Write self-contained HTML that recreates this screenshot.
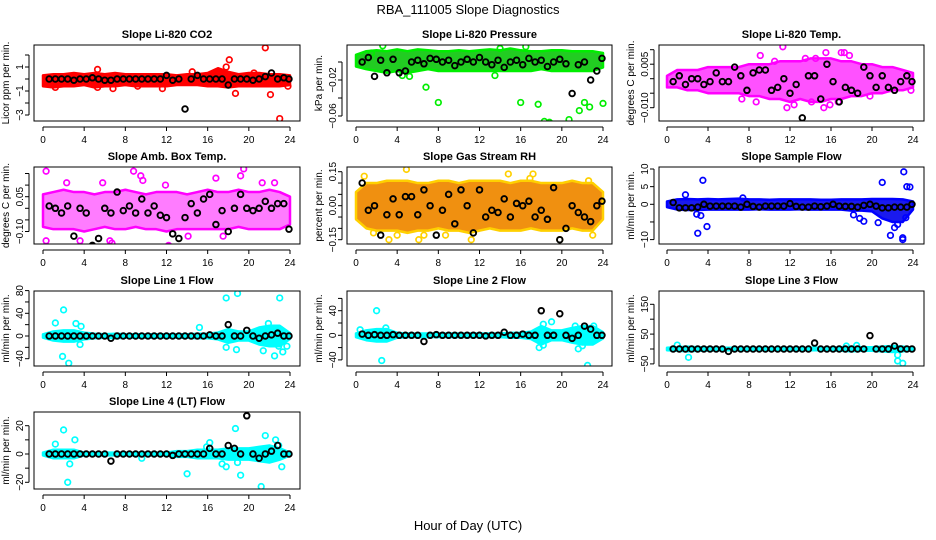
<!DOCTYPE html>
<html><head><meta charset="utf-8">
<style>
html,body{margin:0;padding:0;background:#fff}
svg{display:block;font-family:"Liberation Sans",sans-serif}
</style></head>
<body>
<svg id="chart" width="936" height="540" viewBox="0 0 936 540">
<text x="468" y="14" text-anchor="middle" font-size="13">RBA_111005  Slope Diagnostics</text>
<text x="468" y="530" text-anchor="middle" font-size="13">Hour of Day (UTC)</text>
</svg>
<script>
// ---- shared data ----
const bandHours = [0,1,2,3,4,5,6,7,8,9,10,11,12,13,14,15,16,17,18,19,20,21,22,23,24];
const blackHours = [0.6,1.2,1.8,2.4,3.0,3.6,4.2,4.8,5.4,6.0,6.6,7.2,7.8,8.4,9.0,9.6,10.2,10.8,11.4,12.0,12.6,13.2,13.8,14.4,15.0,15.6,16.2,16.8,17.4,18.0,18.6,19.2,19.8,20.4,21.0,21.6,22.2,22.8,23.4,23.9];
const xTicks = [0,4,8,12,16,20,24];

// CO2
const co2Lo = [-0.6,-0.7,-0.6,-0.6,-0.5,-0.7,-0.6,-0.6,-0.5,-0.6,-0.6,-0.6,-0.6,-0.5,-0.5,-0.5,-0.6,-0.6,-0.7,-0.6,-0.6,-0.6,-0.6,-0.6,-0.5];
const co2Hi = [0.3,0.4,0.4,0.5,0.4,0.5,0.4,0.5,0.4,0.4,0.4,0.4,0.4,0.3,0.4,0.4,0.5,0.9,0.6,0.4,0.5,0.5,0.4,0.4,0.3];
const co2OutT = [18.1,21.6,23.0,18.7,22.1,17.8,6.8,11.6,5.3,5.3,1.2,9.2,14.5,20.5,23.8];
const co2OutV = [1.6,2.6,-3.3,-1.2,-1.3,1.0,-0.8,-0.8,-0.7,0.8,-0.7,-0.6,0.6,0.5,-0.6];
const co2Black = [0,0,0,0,-0.1,0,0,0.1,0,-0.1,-0.1,0,0,0,0,0,0,0,0,0.3,-0.1,0,-2.5,0,0.3,0,0,0,0,-0.5,0,0,0,-0.1,0,0.2,0.5,0,0.1,0];

// Pressure
const presLo = [-0.005,-0.008,-0.010,-0.012,-0.010,-0.012,-0.010,-0.008,-0.010,-0.010,-0.010,-0.010,-0.010,-0.010,-0.010,-0.010,-0.010,-0.010,-0.008,-0.010,-0.010,-0.010,-0.010,-0.010,-0.006];
const presHi = [0.008,0.012,0.013,0.012,0.014,0.012,0.014,0.013,0.012,0.012,0.013,0.012,0.013,0.014,0.013,0.015,0.013,0.012,0.012,0.013,0.013,0.012,0.012,0.012,0.010];
const presOutT = [8.0,6.8,16.0,17.7,18.3,18.8,19.3,20.7,21.7,22.2,22.7,24.0,13.5,4.5,1.5,16.5,14.0,2.6,5.2];
const presOutV = [-0.045,-0.028,-0.045,-0.047,-0.066,-0.067,-0.069,-0.064,-0.054,-0.045,-0.050,-0.046,-0.015,-0.015,0.010,0.017,0.015,0.018,-0.016];
const presBlack = [0.000,0.005,-0.016,0.002,-0.012,0.003,-0.012,-0.010,0.000,0.002,-0.002,0.004,0.003,0.000,0.002,-0.004,0.000,0.003,0.000,0.005,0.000,-0.003,0.002,-0.006,0.000,0.002,-0.003,0.004,0.000,0.002,-0.005,0.000,0.003,-0.002,-0.035,-0.003,0.000,-0.020,-0.010,0.004];

// Li-820 Temp
const tempLo = [-0.003,-0.003,-0.004,-0.004,-0.005,-0.005,-0.005,-0.005,-0.006,-0.006,-0.007,-0.007,-0.008,-0.007,-0.008,-0.008,-0.007,-0.007,-0.006,-0.006,-0.005,-0.005,-0.004,-0.004,-0.003];
const tempHi = [0.001,0.003,0.003,0.003,0.004,0.004,0.004,0.004,0.005,0.005,0.005,0.006,0.006,0.006,0.007,0.007,0.007,0.006,0.006,0.005,0.005,0.004,0.004,0.003,0.002];
const tempOutT = [11.3,9.1,7.3,11.7,12.4,14.1,15.3,15.9,16.7,17.3,17.8,15.5,17.0,23.8,8.7,14.5,10.5,19.8,13.5];
const tempOutV = [0.011,0.008,-0.007,-0.010,-0.009,-0.008,-0.010,-0.009,-0.008,0.009,0.008,0.009,0.009,-0.004,-0.008,0.007,0.006,-0.006,0.007];
const tempBlack = [-0.001,0.001,-0.002,0.0,0.0,-0.002,-0.001,0.002,-0.001,-0.001,0.004,0.001,-0.004,0.002,0.003,0.003,-0.004,-0.003,0.0,-0.005,-0.002,-0.0135,0.001,0.001,-0.007,0.005,-0.001,-0.008,-0.003,-0.004,-0.005,0.004,0.001,-0.003,0.001,-0.003,-0.004,-0.001,0.001,-0.001];

// Amb box temp
const ambLo = [-0.08,-0.09,-0.09,-0.09,-0.10,-0.09,-0.08,-0.09,-0.09,-0.08,-0.09,-0.09,-0.10,-0.09,-0.09,-0.09,-0.09,-0.09,-0.09,-0.08,-0.09,-0.09,-0.09,-0.09,-0.07];
const ambHi = [0.06,0.07,0.08,0.07,0.07,0.06,0.07,0.07,0.08,0.07,0.06,0.07,0.07,0.07,0.06,0.07,0.08,0.07,0.07,0.08,0.07,0.07,0.08,0.07,0.05];
const ambOutT = [0.3,0.3,2.3,5.8,8.8,9.5,9.7,11.9,12.2,6.7,6.5,16.8,19.5,19.2,21.3,22.5,3.6,17.5,14.1];
const ambOutV = [0.16,-0.14,0.11,0.11,0.16,0.14,0.12,0.10,-0.16,-0.15,-0.14,0.13,0.17,0.14,0.11,0.11,-0.14,-0.12,-0.12];
const ambBlack = [0.01,0.0,-0.02,0.01,-0.12,0.0,-0.02,-0.16,-0.13,0.0,-0.02,0.07,-0.01,0.01,-0.02,0.04,-0.02,0.01,-0.03,-0.04,-0.11,-0.13,-0.04,0.02,-0.02,0.04,0.06,-0.07,-0.01,-0.10,0.0,0.06,0.0,-0.01,0.0,0.03,0.0,0.02,0.02,-0.09];

// Gas RH
const rhLo = [-0.06,-0.10,-0.11,-0.11,-0.11,-0.12,-0.11,-0.11,-0.10,-0.11,-0.11,-0.12,-0.11,-0.10,-0.11,-0.11,-0.11,-0.10,-0.11,-0.11,-0.11,-0.10,-0.11,-0.11,-0.06];
const rhHi = [0.06,0.10,0.10,0.11,0.11,0.11,0.10,0.10,0.11,0.11,0.10,0.11,0.11,0.11,0.11,0.10,0.11,0.11,0.10,0.10,0.10,0.11,0.10,0.10,0.06];
const rhOutT = [0.8,1.7,3.2,4.9,6.1,6.6,8.7,11.2,14.8,16.9,17.2,19.8,22.6,23.0,4.0];
const rhOutV = [0.13,-0.12,-0.15,0.16,-0.15,-0.13,-0.13,-0.15,0.14,0.12,0.14,-0.15,0.11,-0.13,-0.13];
const rhBlack = [0.10,-0.02,0.0,-0.13,-0.04,0.03,-0.04,0.04,0.04,-0.04,0.07,0.0,-0.13,-0.02,0.05,-0.08,0.07,0.0,-0.12,0.07,-0.05,-0.02,-0.03,0.03,-0.05,0.01,0.0,0.02,-0.05,-0.02,-0.06,0.08,-0.15,-0.10,0.0,-0.03,-0.05,-0.07,0.0,0.02];

// Sample flow
const flowLo = [-0.8,-1.5,-1.6,-1.6,-1.5,-1.5,-1.5,-1.5,-1.5,-1.4,-1.5,-1.5,-1.5,-1.4,-1.5,-1.5,-1.5,-1.5,-1.8,-1.8,-2.0,-4.0,-5.0,-5.0,-1.5];
const flowHi = [0.8,1.4,1.5,1.4,1.5,1.4,1.5,1.6,1.4,1.4,1.3,1.4,1.4,1.4,1.4,1.3,1.3,1.4,1.4,1.4,1.5,1.5,1.5,1.4,0.8];
const flowOutT = [3.5,3.0,3.9,2.9,3.3,1.8,21.0,22.2,21.8,23.0,23.1,23.4,23.7,23.0,22.5,20.6,19.2,18.8,18.2,7.4,23.3];
const flowOutV = [6.8,-8.2,-6.3,-2.8,-3.2,2.7,6.2,-6.6,-8.8,-9.5,9.2,5.0,4.9,-10,-5.7,-5.2,-4.8,-4.0,-3.0,1.8,-3.8];
const flowBlack = [0.5,-1.0,-1.0,-1.0,-0.8,0.0,-0.5,-0.5,-0.5,-0.5,-0.5,-0.8,0.0,-0.6,-0.8,-0.5,-0.5,-0.5,-0.5,0.2,-0.6,-0.8,-0.8,-0.5,-0.7,-0.5,0.0,-0.5,-0.6,-0.6,-0.8,-0.3,0.0,-0.5,-1.0,-1.0,-0.8,-0.8,-0.8,0.0];

// Line 1 flow
const l1Lo = [-3,-8,-10,-10,-6,-4,-3,-4,-3,-3,-3,-3,-3,-3,-3,-4,-4,-6,-12,-8,-8,-15,-18,-18,-5];
const l1Hi = [3,8,10,10,6,4,3,4,3,3,3,3,3,3,3,4,4,6,12,8,8,15,18,18,5];
const l1OutT = [2.0,2.5,1.9,1.2,3.2,3.6,17.8,18.9,23.0,17.8,18.8,22.5,23.3,21.4,15.2,3.7,21.9,22.9,23.7];
const l1OutV = [46,-48,-36,23,22,-15,67,75,67,-20,-24,-35,-28,-26,15,17,22,-18,-18];
const l1Black = [0,0,0,0,0,0,0,0,0,0,-4,0,0,0,0,0,0,0,0,0,0,0,0,0,0,0,2,0,0,20,0,0,10,0,-4,0,2,5,0,0];

// Line 2 flow
const l2Lo = [-3,-8,-10,-10,-4,-3,-3,-3,-3,-3,-3,-3,-3,-3,-3,-4,-4,-6,-15,-8,-8,-12,-15,-15,-5];
const l2Hi = [3,8,10,10,4,3,3,3,3,3,3,3,3,3,3,4,4,6,15,8,8,12,15,15,5];
const l2OutT = [2.0,2.5,0.4,2.9,17.8,18.2,18.2,19.0,21.6,22.5,21.3,22.0,23.0,23.1];
const l2OutV = [40,-41,9,12,-20,-16,18,22,-22,-49,15,-17,80,15];
const l2Black = [2,0,1,0,0,1,0,0,0,0,-10,0,1,0,0,0,0,0,0,0,-1,0,0,5,0,0,2,0,0,40,0,0,35,0,-5,0,15,10,0,0];

// Line 3 flow
const l3Lo = [-4,-6,-8,-6,-5,-4,-4,-4,-4,-4,-4,-4,-4,-4,-4,-4,-4,-6,-8,-6,-6,-8,-10,-8,-4];
const l3Hi = [4,6,8,6,5,4,4,4,4,4,4,4,4,4,4,4,4,6,8,6,6,8,10,8,4];
const l3OutT = [2.1,22.5,22.5,23.0,1.0,17.5,18.5];
const l3OutV = [-28,-40,-20,-48,13,10,12];
const l3Black = [0,0,0,0,0,0,0,0,0,-8,0,0,0,0,0,0,0,0,0,0,0,0,0,20,0,0,0,0,0,0,0,0,45,0,0,0,10,0,0,0];

// Line 4 (LT) flow
const l4Lo = [-1,-3,-3,-3,-1,-1,-1,-1,-1,-1,-1,-1,-1,-2,-2,-3,-3,-3,-4,-4,-4,-5,-6,-4,-1];
const l4Hi = [1,3,3,3,1,1,1,1,1,1,1,1,1,2,2,3,3,3,4,4,4,5,6,4,1];
const l4OutT = [2.0,2.4,2.6,3.1,1.2,14.0,15.9,16.2,17.4,17.8,18.7,18.9,19.2,21.2,21.6,22.6,22.9,23.2,9.6];
const l4OutV = [17,-20,-7,10,7,-14,5,8,-7,-9,18,-6,-15,-23,13,10,6,-9,-3];
const l4Black = [0,0,0,0,0,0,0,0,0,0,-5,0,0,0,0,0,0,0,0,0,-1,0,0,0,0,0,4,0,0,6,4,0,27,0,-3,0,2,6,0,0];

// ---- layout (positions only) ----
const NS = 'http://www.w3.org/2000/svg';
const svg = document.getElementById('chart');
const cols = [{l:34,r:300,x0:43,x24:290},{l:347,r:612,x0:356,x24:603},{l:659,r:924,x0:667,x24:913}];
const rows = [{t:45,b:121},{t:167,b:244},{t:291,b:366},{t:412,b:489}];

function mk(tag, attrs, parent){
  const e = document.createElementNS(NS, tag);
  for (const k in attrs) e.setAttribute(k, attrs[k]);
  (parent||svg).appendChild(e);
  return e;
}

function panel(p){
  const c = cols[p.col], r = rows[p.row];
  const g = mk('g', {});
  
  
  const xs = h => c.x0 + (c.x24 - c.x0) * h / 24;
  const ys = v => p.yA + (v - p.vA) * (p.yB - p.yA) / (p.vB - p.vA);
  const clip = 'clip-' + p.name;
  const cp = mk('clipPath', {id: clip}, g);
  mk('rect', {x:c.l, y:r.t, width:c.r-c.l, height:r.b-r.t}, cp);
  const data = mk('g', {'clip-path': 'url(#' + clip + ')'}, g);
  let pts = bandHours.map((h,i) => xs(h) + ',' + ys(p.hi[i]));
  pts = pts.concat(bandHours.slice().reverse().map((h,j) => xs(h) + ',' + ys(p.lo[bandHours.length-1-j])));
  const band = mk('polygon', {points: pts.join(' '), fill: p.fill, 'fill-opacity': p.op || 1, stroke: p.color, 'stroke-width': 2.5, 'stroke-linejoin':'round'}, data);
  
  
  p.ot.forEach((h,i) => {
    const ci = mk('circle', {cx: xs(h), cy: ys(p.ov[i]), r: 2.8, fill: 'none', stroke: p.color, 'stroke-width': 1.7}, data);
    
    
  });
  blackHours.forEach((h,i) => {
    const ci = mk('circle', {cx: xs(h), cy: ys(p.bk[i]), r: 2.8, fill: 'none', stroke: '#000', 'stroke-width': 1.9}, data);
    
    
  });
  const box = mk('rect', {x:c.l, y:r.t, width:c.r-c.l, height:r.b-r.t, fill:'none', stroke:'#000', 'stroke-width':1}, g);
  
  
  const t = mk('text', {x:(c.l+c.r)/2, y:r.t-7, 'text-anchor':'middle', 'font-size':11, 'font-weight':'bold'}, g);
  t.textContent = p.title;
  
  
  const ax = mk('line', {x1:xs(0), x2:xs(24), y1:r.b+6, y2:r.b+6, stroke:'#000'}, g);
  
  
  xTicks.forEach(v => {
    mk('line', {x1:xs(v), x2:xs(v), y1:r.b+6, y2:r.b+10, stroke:'#000'}, g);
    const tl = mk('text', {x:xs(v), y:r.b+22, 'text-anchor':'middle', 'font-size':10}, g);
    tl.textContent = v;
    
    
  });
  const ay = mk('line', {x1:c.l-5, x2:c.l-5, y1:ys(p.ticks[p.ticks.length-1]), y2:ys(p.ticks[0]), stroke:'#000'}, g);
  
  
  p.ticks.forEach(v => {
    mk('line', {x1:c.l-9, x2:c.l-5, y1:ys(v), y2:ys(v), stroke:'#000'}, g);
  });
  p.labels.forEach((lab,i) => {
    const y = ys(p.labelVals[i]);
    const tl = mk('text', {x:c.l-11, y:y, 'text-anchor':'middle', 'font-size':10, transform:'rotate(-90 ' + (c.l-11) + ' ' + y + ')'}, g);
    tl.textContent = lab;
    
    
  });
  const yt = (r.t + r.b)/2;
  const yl = mk('text', {x:c.l-25, y:yt, 'text-anchor':'middle', 'font-size':10, transform:'rotate(-90 ' + (c.l-25) + ' ' + yt + ')'}, g);
  yl.textContent = p.ylab;
  
  
}

panel({name:'co2', col:0,row:0,title:'Slope Li-820 CO2', ylab:'Licor ppm per min.', color:'#ff0000', fill:'#ff0000',
  vA:0,yA:79,vB:1,yB:67, lo:co2Lo,hi:co2Hi,ot:co2OutT,ov:co2OutV,bk:co2Black,
  ticks:[-3,-2,-1,0,1,2], labels:['\u22123','\u22121','1'], labelVals:[-3,-1,1]});
panel({name:'pressure', col:1,row:0,title:'Slope Li-820 Pressure', ylab:'kPa per min.', color:'#00ee00', fill:'#22cc22',
  vA:0,yA:62,vB:-0.02,yB:80, lo:presLo,hi:presHi,ot:presOutT,ov:presOutV,bk:presBlack,
  ticks:[-0.06,-0.04,-0.02,0], labels:['\u22120.06','\u22120.02'], labelVals:[-0.06,-0.02]});
panel({name:'li820-temp', col:2,row:0,title:'Slope Li-820 Temp.', ylab:'degrees C per min.', color:'#ff00ff', fill:'#ff33ff', op:0.85,
  vA:0,yA:78.7,vB:0.005,yB:64.2, lo:tempLo,hi:tempHi,ot:tempOutT,ov:tempOutV,bk:tempBlack,
  ticks:[-0.01,-0.005,0,0.005,0.01], labels:['\u22120.010','0.005'], labelVals:[-0.01,0.005]});
panel({name:'amb-box-temp', col:0,row:1,title:'Slope Amb. Box Temp.', ylab:'degrees C per min.', color:'#ff00ff', fill:'#ff44ff', op:0.7,
  vA:0,yA:208.3,vB:0.05,yB:196.7, lo:ambLo,hi:ambHi,ot:ambOutT,ov:ambOutV,bk:ambBlack,
  ticks:[-0.1,-0.05,0,0.05,0.1,0.15], labels:['\u22120.10','0.05'], labelVals:[-0.1,0.05]});
panel({name:'gas-rh', col:1,row:1,title:'Slope Gas Stream RH', ylab:'percent per min.', color:'#ffd000', fill:'#f09010',
  vA:0,yA:205.7,vB:0.15,yB:171.7, lo:rhLo,hi:rhHi,ot:rhOutT,ov:rhOutV,bk:rhBlack,
  ticks:[-0.15,-0.1,-0.05,0,0.05,0.1,0.15], labels:['\u22120.15','0.00','0.15'], labelVals:[-0.15,0,0.15]});
panel({name:'sample-flow', col:2,row:1,title:'Slope Sample Flow', ylab:'ml/min per min.', color:'#0000ff', fill:'#1a1aee',
  vA:0,yA:204.3,vB:10,yB:169, lo:flowLo,hi:flowHi,ot:flowOutT,ov:flowOutV,bk:flowBlack,
  ticks:[-10,-5,0,5,10], labels:['\u221210','0','5','10'], labelVals:[-10,0,5,10]});
panel({name:'line1-flow', col:0,row:2,title:'Slope Line 1 Flow', ylab:'ml/min per min.', color:'#00ffff', fill:'#00ffff',
  vA:0,yA:336,vB:40,yB:313.3, lo:l1Lo,hi:l1Hi,ot:l1OutT,ov:l1OutV,bk:l1Black,
  ticks:[-40,-20,0,20,40,60,80], labels:['\u221240','0','40','80'], labelVals:[-40,0,40,80]});
panel({name:'line2-flow', col:1,row:2,title:'Slope Line 2 Flow', ylab:'ml/min per min.', color:'#00ffff', fill:'#00ffff',
  vA:0,yA:335.3,vB:40,yB:310.7, lo:l2Lo,hi:l2Hi,ot:l2OutT,ov:l2OutV,bk:l2Black,
  ticks:[-40,-20,0,20,40,60], labels:['\u221240','0','40'], labelVals:[-40,0,40]});
panel({name:'line3-flow', col:2,row:2,title:'Slope Line 3 Flow', ylab:'ml/min per min.', color:'#00ffff', fill:'#00ffff',
  vA:0,yA:349,vB:150,yB:304.3, lo:l3Lo,hi:l3Hi,ot:l3OutT,ov:l3OutV,bk:l3Black,
  ticks:[-50,0,50,100,150], labels:['\u221250','50','150'], labelVals:[-50,50,150]});
panel({name:'line4-flow', col:0,row:3,title:'Slope Line 4 (LT) Flow', ylab:'ml/min per min.', color:'#00ffff', fill:'#00ffff',
  vA:0,yA:454,vB:20,yB:425.7, lo:l4Lo,hi:l4Hi,ot:l4OutT,ov:l4OutV,bk:l4Black,
  ticks:[-20,-10,0,10,20], labels:['\u221220','0','20'], labelVals:[-20,0,20]});
</script>
</body></html>
